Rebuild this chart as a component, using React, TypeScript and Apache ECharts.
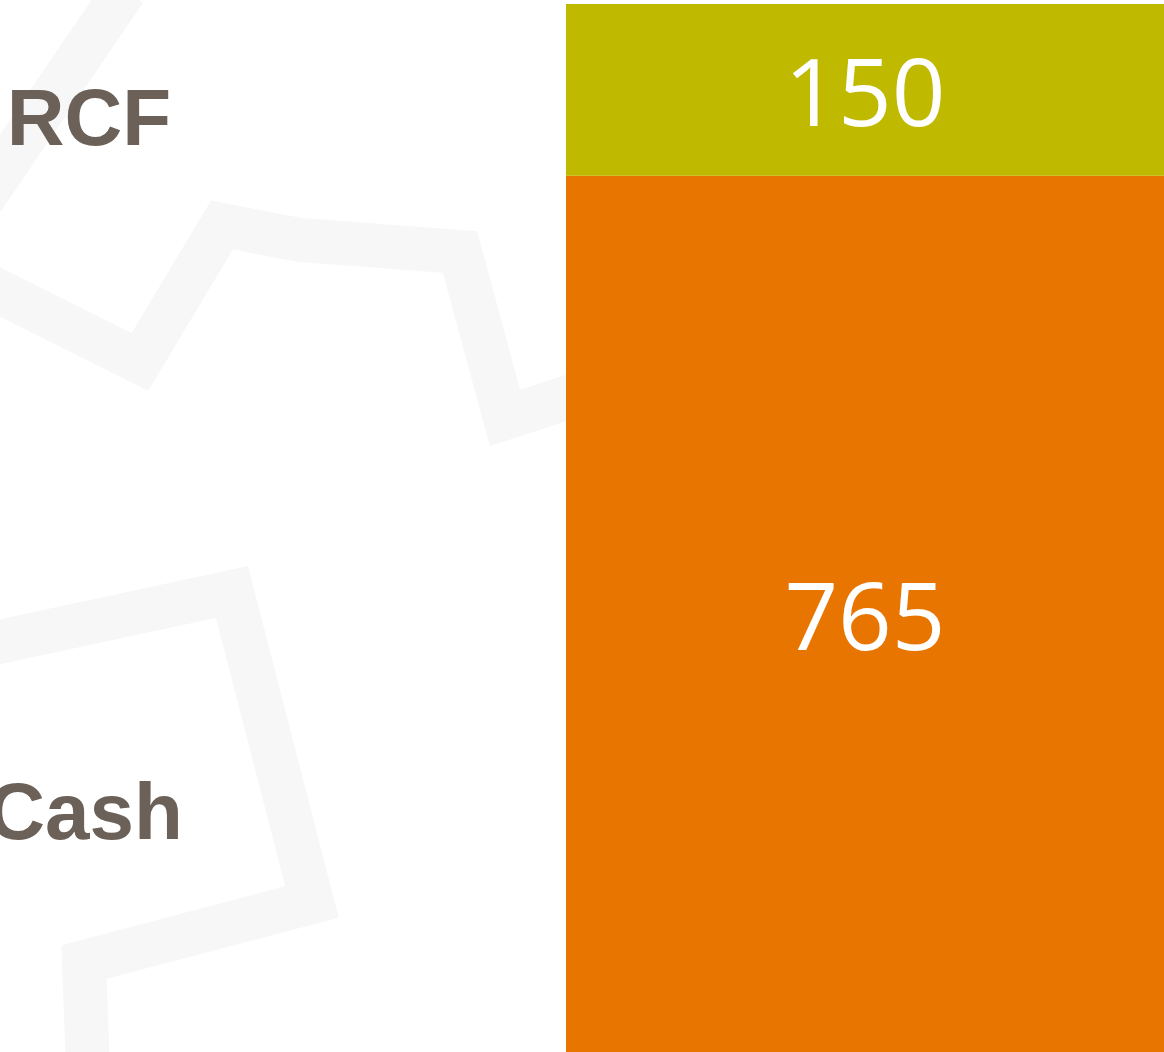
import React, { useEffect, useRef } from "react";
import * as echarts from "echarts";

const categories = ["Liquidity"];
const cashValues = [765];
const rcfValues = [150];
const seriesNames = ["Cash", "RCF"];
const axisMax = 915;

export default function App() {
  const ref = useRef<HTMLDivElement>(null);
  useEffect(() => {
    if (!ref.current) return;
    const chart = echarts.init(ref.current, null, { renderer: "svg" });
    const wm = "#f7f7f7";
    const band = { stroke: wm, lineWidth: 44, fill: null, lineJoin: "miter" };
    chart.setOption({
      animation: false,
      backgroundColor: "#ffffff",
      grid: { left: 566, top: 4, width: 600, bottom: 0, containLabel: false },
      xAxis: {
        type: "category",
        data: categories,
        show: false,
      },
      yAxis: { type: "value", min: 0, max: axisMax, show: false },
      graphic: [
        {
          type: "polyline",
          silent: true,
          z: -10,
          shape: { points: [[125, -10], [-25, 210]] },
          style: band,
        },
        {
          type: "polyline",
          silent: true,
          z: -10,
          shape: {
            points: [
              [-20, 282],
              [140, 362],
              [222, 225],
              [300, 240],
              [460, 252],
              [505, 418],
              [575, 395],
            ],
          },
          style: band,
        },
        {
          type: "polyline",
          silent: true,
          z: -10,
          shape: {
            points: [
              [-20, 646],
              [232, 592],
              [312, 902],
              [84, 962],
              [88, 1070],
            ],
          },
          style: band,
        },
        {
          type: "text",
          z: 10,
          x: 89,
          y: 117,
          style: {
            text: seriesNames[1],
            fill: "#6b6158",
            font: "bold 80px 'Liberation Sans', Arial, sans-serif",
            align: "center",
            verticalAlign: "middle",
          },
        },
        {
          type: "text",
          z: 10,
          x: 85,
          y: 811,
          style: {
            text: seriesNames[0],
            fill: "#6b6158",
            font: "bold 80px 'Liberation Sans', Arial, sans-serif",
            align: "center",
            verticalAlign: "middle",
          },
        },
      ],
      series: [
        {
          name: seriesNames[0],
          type: "bar",
          stack: "total",
          data: cashValues,
          barWidth: "100%",
          itemStyle: { color: "#e87500" },
          label: {
            show: true,
            position: "inside",
            color: "#ffffff",
            fontFamily: "'Open Sans', sans-serif",
            fontSize: 94,
          },
        },
        {
          name: seriesNames[1],
          type: "bar",
          stack: "total",
          data: rcfValues,
          barWidth: "100%",
          itemStyle: { color: "#bfb900" },
          label: {
            show: true,
            position: "inside",
            color: "#ffffff",
            fontFamily: "'Open Sans', sans-serif",
            fontSize: 94,
          },
        },
      ],
    });
    return () => chart.dispose();
  }, []);
  return <div ref={ref} style={{ width: 1164, height: 1052, position: "absolute", left: 0, top: 0 }} />;
}
